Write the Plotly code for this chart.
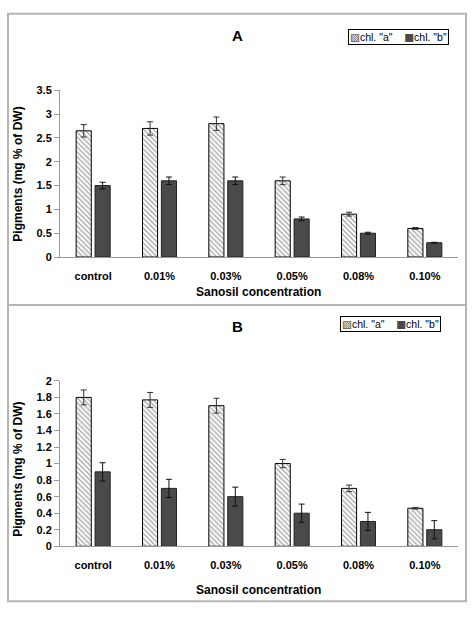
import plotly.graph_objects as go

categories = ["control", "0.01%", "0.03%", "0.05%", "0.08%", "0.10%"]

a_chl_a = [2.65, 2.70, 2.80, 1.60, 0.90, 0.60]
a_chl_a_err = [0.13, 0.14, 0.14, 0.08, 0.04, 0.02]
a_chl_b = [1.50, 1.60, 1.60, 0.80, 0.50, 0.30]
a_chl_b_err = [0.07, 0.08, 0.08, 0.04, 0.02, 0.01]

b_chl_a = [1.80, 1.77, 1.70, 1.00, 0.70, 0.46]
b_chl_a_err = [0.09, 0.09, 0.09, 0.05, 0.04, 0.01]
b_chl_b = [0.90, 0.70, 0.60, 0.40, 0.30, 0.20]
b_chl_b_err = [0.11, 0.11, 0.115, 0.11, 0.11, 0.11]

series_names = ['chl. "a"', 'chl. "b"']

W, H = 474, 617
FONT = "Liberation Sans"
DARK = "#4a4a4a"


def px(x):
    return x / W


def py(y):
    return 1 - y / H


fig = go.Figure()


def add_panel(xa, ya, va, ea, vb, eb):
    fig.add_trace(go.Bar(
        x=categories, y=va, name=series_names[0], xaxis=xa, yaxis=ya,
        marker=dict(color="white", line=dict(color="black", width=1),
                    pattern=dict(shape="\\", fgcolor="#444444", bgcolor="white",
                                 size=3.5, solidity=0.35)),
        error_y=dict(type="data", array=ea, visible=True, color="#333333",
                     thickness=1, width=3),
        showlegend=False, hoverinfo="skip"))
    fig.add_trace(go.Bar(
        x=categories, y=vb, name=series_names[1], xaxis=xa, yaxis=ya,
        marker=dict(color=DARK, line=dict(color="#222222", width=1)),
        error_y=dict(type="data", array=eb, visible=True, color="#111111",
                     thickness=1, width=3),
        showlegend=False, hoverinfo="skip"))


add_panel("x", "y", a_chl_a, a_chl_a_err, a_chl_b, a_chl_b_err)
add_panel("x2", "y2", b_chl_a, b_chl_a_err, b_chl_b, b_chl_b_err)

tickfont = dict(family=FONT, size=11, color="black", weight="bold")
xcommon = dict(showline=True, linecolor="#999999", linewidth=1, ticks="outside",
               ticklen=9, tickcolor="rgba(0,0,0,0)", tickfont=tickfont,
               showgrid=False, zeroline=False, fixedrange=True)
ycommon = dict(showline=True, linecolor="#999999", linewidth=1, ticks="outside",
               ticklen=5, tickcolor="#999999", tickfont=tickfont,
               showgrid=False, zeroline=False, fixedrange=True)

fig.update_layout(
    width=W, height=H, margin=dict(l=0, r=0, t=0, b=0),
    paper_bgcolor="white", plot_bgcolor="white", showlegend=False,
    barmode="group", bargap=0.43, bargroupgap=0.2,
    font=dict(family=FONT, color="black"),
    xaxis=dict(domain=[px(60), px(458)], anchor="y", **xcommon),
    yaxis=dict(domain=[py(256), py(86)], range=[0, 3.5], dtick=0.5,
               anchor="x", **ycommon),
    xaxis2=dict(domain=[px(60), px(458)], anchor="y2", **xcommon),
    yaxis2=dict(domain=[py(551), py(382.3)], range=[0, 2], dtick=0.2,
                tickformat=".1~f", anchor="x2", **ycommon),
)

# panel frames
shape_line = dict(color="#b5b5b5", width=2)
fig.add_shape(type="rect", xref="paper", yref="paper",
              x0=px(8), x1=px(466), y0=py(607), y1=py(8), line=shape_line)
fig.add_shape(type="line", xref="paper", yref="paper",
              x0=px(8), x1=px(466), y0=py(305), y1=py(305), line=shape_line)

# legends (compact boxed key)
legend_text = ('<span style="font-family:DejaVu Sans;color:#444444">▧</span>'
               + series_names[0] + '    '
               + '<span style="font-family:DejaVu Sans;color:' + DARK + '">■</span>'
               + series_names[1])
for x0, x1, yc in [(345, 452, 32), (338, 442, 324.5)]:
    fig.add_annotation(text=legend_text, x=px((x0 + x1) / 2), y=py(yc), xref="paper",
                       yref="paper", showarrow=False,
                       font=dict(family=FONT, size=10.5, color="black"),
                       bordercolor="black", borderwidth=1, borderpad=1,
                       bgcolor="white", xanchor="center", yanchor="middle")

titlefont = dict(family=FONT, size=15, color="black", weight="bold")
labfont = dict(family=FONT, size=12, color="black", weight="bold")
for txt, x, y in [("A", 237, 30), ("B", 237, 327)]:
    fig.add_annotation(text=txt, x=px(x), y=py(y), xref="paper", yref="paper",
                       showarrow=False, font=titlefont, xanchor="center", yanchor="middle")
for y in [292, 596]:
    fig.add_annotation(text="Sanosil concentration", x=px(258), y=py(y), xref="paper",
                       yref="paper", showarrow=False, font=labfont,
                       xanchor="center", yanchor="middle")
for y in [172, 473]:
    fig.add_annotation(text="Pigments (mg % of DW)", x=px(18), y=py(y), xref="paper",
                       yref="paper", showarrow=False, font=labfont, textangle=-90,
                       xanchor="center", yanchor="middle")

fig.write_html("out.html", config={"displayModeBar": False},
               post_script="document.body.style.margin='0';document.body.style.overflow='hidden';")
